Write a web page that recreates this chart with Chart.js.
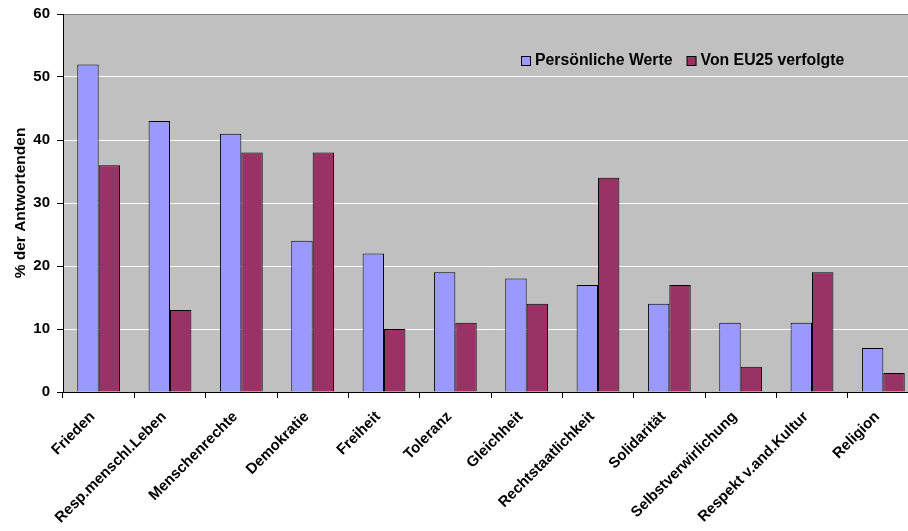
<!DOCTYPE html>
<html>
<head>
<meta charset="utf-8">
<script src="https://cdn.jsdelivr.net/npm/chart.js@4.4.1/dist/chart.umd.min.js"></script>
<style>
html,body{margin:0;padding:0;background:#fff;overflow:hidden;width:908px;height:531px;}
#wrap{position:absolute;left:0;top:0;width:919px;height:531px;}
</style>
</head>
<body>
<div id="wrap"><canvas id="c" width="919" height="531"></canvas></div>
<script>
const categories = ["Frieden","Resp.menschl.Leben","Menschenrechte","Demokratie","Freiheit","Toleranz","Gleichheit","Rechtstaatlichkeit","Solidarität","Selbstverwirlichung","Respekt v.and.Kultur","Religion"];
const persoenlich = [52,43,41,24,22,19,18,17,14,11,11,7];
const eu25 = [36,13,38,38,10,11,14,34,17,4,19,3];
const seriesNames = ["Persönliche Werte","Von EU25 verfolgte"];
const yTicks = [0,10,20,30,40,50,60];

const FONT = "'Liberation Sans', Arial, sans-serif";

const bgPlugin = {
  id: 'bg',
  beforeDraw(chart){
    const {ctx, chartArea:a} = chart;
    ctx.save();
    ctx.fillStyle = '#C0C0C0';
    ctx.fillRect(a.left, a.top, a.right-a.left, a.bottom-a.top);
    ctx.restore();
  }
};

const legendPlugin = {
  id: 'customLegend',
  afterDraw(chart){
    const ctx = chart.ctx;
    ctx.save();
    ctx.font = "bold 15.8px " + FONT;
    ctx.textBaseline = 'middle';
    let x = 521, y = 61;
    chart.data.datasets.forEach(ds => {
      ctx.fillStyle = ds.backgroundColor;
      ctx.fillRect(x+0.5, y-5+0.5, 9, 9);
      ctx.strokeStyle = '#000';
      ctx.lineWidth = 1;
      ctx.strokeRect(x+0.5, y-5+0.5, 9, 9);
      ctx.fillStyle = '#000';
      ctx.fillText(ds.label, x+14, y);
      x += 14 + ctx.measureText(ds.label).width + 14;
    });
    ctx.restore();
  }
};

new Chart(document.getElementById('c'), {
  type: 'bar',
  data: {
    labels: categories,
    datasets: [
      {label: seriesNames[0], data: persoenlich, backgroundColor: '#9999FF', borderColor: '#000', borderWidth: 1, categoryPercentage: 0.6, barPercentage: 1},
      {label: seriesNames[1], data: eu25, backgroundColor: '#993366', borderColor: '#000', borderWidth: 1, categoryPercentage: 0.6, barPercentage: 1}
    ]
  },
  options: {
    responsive: false,
    animation: false,
    devicePixelRatio: 1,
    layout: {padding: {top: 14, right: 0, left: 0, bottom: 0}},
    plugins: {legend: {display: false}, tooltip: {enabled: false}},
    scales: {
      x: {
        grid: {display: true, drawOnChartArea: false, offset: true, tickLength: 6, tickColor: '#000', tickWidth: 1},
        border: {display: true, color: '#000', width: 1},
        ticks: {color: '#000', font: {family: FONT, size: 15, weight: 'bold'}, minRotation: 45, maxRotation: 45, autoSkip: false, padding: 10, labelOffset: -6},
        afterFit(s){ s.height = 139; s.paddingRight = 0; }
      },
      y: {
        min: 0, max: 60,
        afterBuildTicks(s){ s.ticks = yTicks.map(v => ({value: v})); },
        grid: {
          color: ctx => (ctx.tick && ctx.tick.value === 60) ? '#808080' : '#FFFFFF',
          tickColor: '#000', tickLength: 6, lineWidth: 1
        },
        border: {display: true, color: '#000', width: 1},
        ticks: {color: '#000', font: {family: FONT, size: 15, weight: 'bold'}, padding: 7},
        title: {display: true, text: '% der Antwortenden', color: '#000', font: {family: FONT, size: 15.5, weight: 'bold'}, padding: {top: 11, bottom: 0}},
        afterFit(s){ s.width = 63; s.paddingTop = 0; s.paddingBottom = 0; }
      }
    }
  },
  plugins: [bgPlugin, legendPlugin]
});
</script>
</body>
</html>
